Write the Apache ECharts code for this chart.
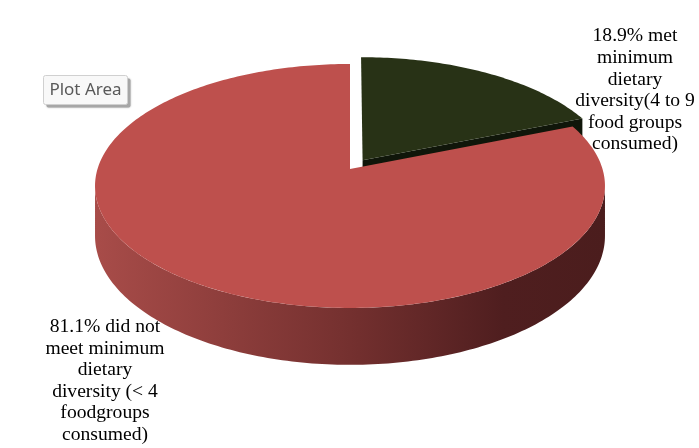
<!DOCTYPE html>
<html><head><meta charset="utf-8">
<script src="https://cdn.jsdelivr.net/npm/echarts@6/dist/echarts.min.js"></script>
<style>html,body{margin:0;padding:0;background:#fff}#c{width:699px;height:448px}</style>
</head><body><div id="c"></div>
<script>
// ---- data ----
const categories = ['met minimum dietary diversity', 'did not meet minimum dietary diversity'];
const values = [18.9, 81.1];
const labels = [
  '18.9% met\nminimum\ndietary\ndiversity(4 to 9\nfood groups\nconsumed)',
  '81.1% did not\nmeet minimum\ndietary\ndiversity (< 4\nfoodgroups\nconsumed)'
];

// ---- style / layout ----
const topColors = ['#283216', '#be504d'];
const faceColors = ['#10160a', '#6e2b2a'];
const G = {cx: 350, cy: 169, a: 252.5, b: 119.6, k: 0.139, d: 49, explode: [0.09, 0]};

const total = values.reduce((s, v) => s + v, 0);
function proj(u, v, h) {
  const s = 1 + G.k * v;
  return [G.cx + G.a * u / s, G.cy + (-v * G.b + h * G.d) / s];
}
const wallGrad = {
  type: 'linear', x: G.cx - G.a * 1.01, y: 0, x2: G.cx + G.a * 1.01, y2: 0, global: true,
  colorStops: [
    {offset: 0, color: '#a84c49'},
    {offset: 0.5, color: '#74302f'},
    {offset: 0.8, color: '#4f1e1f'},
    {offset: 1, color: '#4b1d1d'}
  ]
};

const chart = echarts.init(document.getElementById('c'), null, {renderer: 'canvas'});

function renderItem(params, api) {
  const i = params.dataIndex;
  let cum = 0;
  for (let j = 0; j < i; j++) cum += values[j];
  const t1 = 90 - 360 * (cum + values[i]) / total;
  const t2 = 90 - 360 * cum / total;
  const mid = (t1 + t2) / 2 * Math.PI / 180;
  const e = G.explode[i];
  const ou = e * Math.cos(mid), ov = e * Math.sin(mid);
  const P = (deg, r, h) => {
    const t = deg * Math.PI / 180;
    return proj(ou + r * Math.cos(t), ov + r * Math.sin(t), h);
  };
  const arc = (from, to, h) => {
    const pts = [];
    const n = Math.max(2, Math.ceil(Math.abs(to - from)));
    for (let s = 0; s <= n; s++) pts.push(P(from + (to - from) * s / n, 1, h));
    return pts;
  };
  const children = [];
  // outer wall (visible front part)
  const phi = Math.asin(G.k) * 180 / Math.PI;
  for (const off of [-360, 0, 360]) {
    const lo = Math.max(t1, -180 + phi + off), hi = Math.min(t2, -phi + off);
    if (hi > lo) {
      children.push({type: 'polygon', shape: {points: arc(lo, hi, 0).concat(arc(hi, lo, 1))},
        style: {fill: wallGrad}});
    }
  }
  // radial faces
  const t1r = t1 * Math.PI / 180, t2r = t2 * Math.PI / 180;
  if (Math.cos(t1r) > 0.001) {
    children.push({type: 'polygon', shape: {points: [P(t1, 0, 0), P(t1, 1, 0), P(t1, 1, 1), P(t1, 0, 1)]},
      style: {fill: faceColors[i]}});
  }
  if (Math.cos(t2r) < -0.001) {
    children.push({type: 'polygon', shape: {points: [P(t2, 0, 0), P(t2, 1, 0), P(t2, 1, 1), P(t2, 0, 1)]},
      style: {fill: faceColors[i]}});
  }
  // top face
  children.push({type: 'polygon', shape: {points: [P(0, 0, 0)].concat(arc(t1, t2, 0))},
    style: {fill: topColors[i]}});
  return {type: 'group', children};
}

const labelFont = '19.6px "Liberation Serif", "Times New Roman", serif';
chart.setOption({
  backgroundColor: '#ffffff',
  animation: false,
  series: [{
    type: 'custom',
    coordinateSystem: 'none',
    silent: true,
    renderItem,
    data: values.map((v, i) => ({name: categories[i], value: v}))
  }],
  graphic: [
    {type: 'text', x: 635, y: 25.5, style: {text: labels[0], font: labelFont, fill: '#000',
      align: 'center', verticalAlign: 'top', lineHeight: 21.6}},
    {type: 'text', x: 105, y: 316, style: {text: labels[1], font: labelFont, fill: '#000',
      align: 'center', verticalAlign: 'top', lineHeight: 21.6}},
    {type: 'rect', shape: {x: 46.5, y: 78.5, width: 84, height: 29, r: 2},
      style: {fill: '#a6a6a6', stroke: null, shadowBlur: 2, shadowColor: 'rgba(0,0,0,0.3)'}},
    {type: 'rect', shape: {x: 43.5, y: 75.5, width: 84, height: 29, r: 2},
      style: {fill: '#f8f8f8', stroke: '#d0d0d0', lineWidth: 1}},
    {type: 'text', x: 85.5, y: 90.5, style: {text: 'Plot Area', font: '17px "Noto Sans", sans-serif',
      fill: '#595959', align: 'center', verticalAlign: 'middle'}}
  ]
});
</script></body></html>
